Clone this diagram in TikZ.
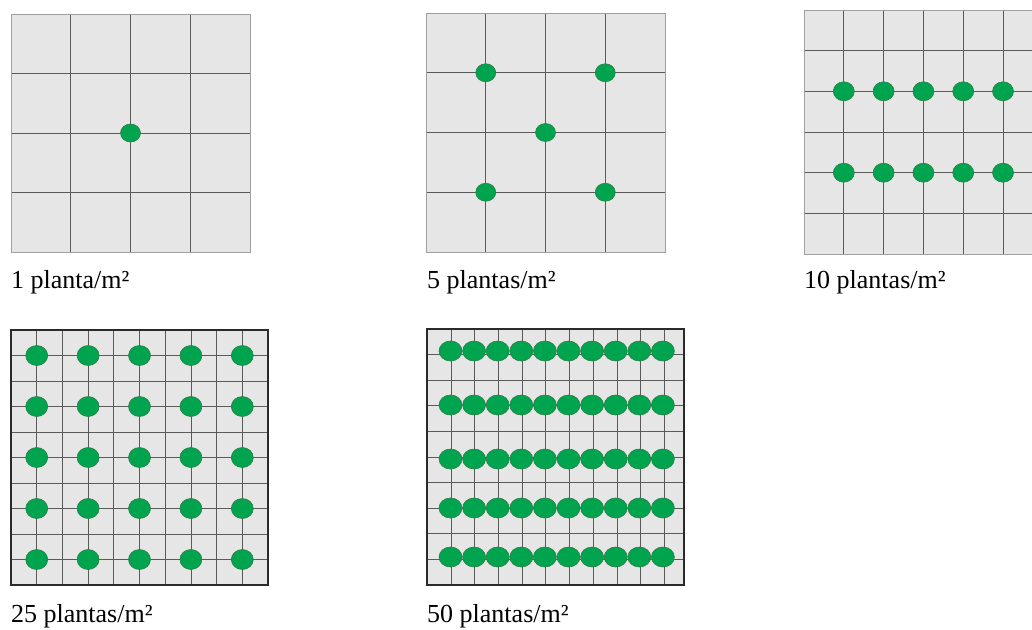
\documentclass[tikz,border=0pt]{standalone}
\usepackage{fontspec}
\setmainfont{Liberation Serif}
\definecolor{cellfill}{HTML}{E6E6E6}
\definecolor{gridline}{HTML}{5A5A5A}
\definecolor{lightborder}{HTML}{A0A0A0}
\definecolor{darkborder}{HTML}{2A2A2A}
\definecolor{plantgreen}{HTML}{00A44F}
\definecolor{plantedge}{HTML}{2E7D45}
\tikzset{
  field/.style={fill=cellfill, draw=none},
  gridln/.style={draw=gridline, line width=0.8pt},
  thinborder/.style={draw=lightborder, line width=1pt},
  thickborder/.style={draw=darkborder, line width=2.5pt},
  plant/.style={fill=plantgreen, draw=plantedge, line width=0.6pt},
  lbl/.style={anchor=base west, inner sep=0pt, font=\fontsize{26}{30}\selectfont}
}
\begin{document}
\begin{tikzpicture}[x=1pt,y=-1pt]
\useasboundingbox (0,0) rectangle (1032,629);
\fill[white] (0,0) rectangle (1032,629);

% ---------- Panel 1 : 1 planta/m2 ----------
\fill[field] (11,14) rectangle (250,252);
\foreach \k in {1,2,3} {
  \draw[gridln] ({11+59.75*\k},14) -- ({11+59.75*\k},252);
  \draw[gridln] (11,{14+59.5*\k}) -- (250,{14+59.5*\k});
}
\draw[thinborder] (11,14) rectangle (250,252);
\filldraw[plant] (130.5,133) ellipse [x radius=10, y radius=9];
\node[lbl] (l1) at (11,288) {1 planta/m²};

% ---------- Panel 2 : 5 plantas/m2 ----------
\fill[field] (426,13) rectangle (665,252);
\foreach \k in {1,2,3} {
  \draw[gridln] ({426+59.75*\k},13) -- ({426+59.75*\k},252);
  \draw[gridln] (426,{13+59.75*\k}) -- (665,{13+59.75*\k});
}
\draw[thinborder] (426,13) rectangle (665,252);
\foreach \px/\py in {485.75/72.75, 605.25/72.75, 545.5/132.5, 485.75/192.25, 605.25/192.25}
  \filldraw[plant] (\px,\py) ellipse [x radius=10, y radius=9];
\node[lbl] (l5) at (427,288) {5 plantas/m²};

% ---------- Panel 3 : 10 plantas/m2 ----------
\begin{scope}
\clip (0,0) rectangle (1032,629);
\fill[field] (804,10) rectangle (1043,254);
\foreach \k in {1,...,5}
  \draw[gridln] ({804+39.8*\k},10) -- ({804+39.8*\k},254);
\foreach \k in {1,...,5}
  \draw[gridln] (804,{10+40.67*\k}) -- (1043,{10+40.67*\k});
\draw[thinborder] (804,10) rectangle (1043,254);
\foreach \k in {1,...,5} {
  \filldraw[plant] ({804+39.8*\k},91.3) ellipse [x radius=10.5, y radius=9.5];
  \filldraw[plant] ({804+39.8*\k},172.7) ellipse [x radius=10.5, y radius=9.5];
}
\end{scope}
\node[lbl] (l10) at (804,288) {10 plantas/m²};

% ---------- Panel 4 : 25 plantas/m2 ----------
\fill[field] (11,330) rectangle (268,585);
\foreach \k in {1,...,9} {
  \draw[gridln] ({11+25.7*\k},330) -- ({11+25.7*\k},585);
  \draw[gridln] (11,{330+25.5*\k}) -- (268,{330+25.5*\k});
}
\draw[thickborder] (11,330) rectangle (268,585);
\foreach \i in {1,3,5,7,9}
  \foreach \j in {1,3,5,7,9}
    \filldraw[plant] ({11+25.7*\i},{330+25.5*\j}) ellipse [x radius=11, y radius=10];
\node[lbl] (l25) at (11,622) {25 plantas/m²};

% ---------- Panel 5 : 50 plantas/m2 ----------
\fill[field] (427,329) rectangle (684,585);
\foreach \k in {0,...,9}
  \draw[gridln] ({451+23.7*\k},329) -- ({451+23.7*\k},585);
\foreach \k in {1,...,9}
  \draw[gridln] (427,{329+25.6*\k}) -- (684,{329+25.6*\k});
\draw[thickborder] (427,329) rectangle (684,585);
\foreach \py in {351,405,459,508,557}
  \foreach \k in {0,...,9}
    \filldraw[plant] ({450.5+23.6*\k},\py) ellipse [x radius=11.5, y radius=10];
\node[lbl] (l50) at (427,622) {50 plantas/m²};
\end{tikzpicture}
\end{document}
